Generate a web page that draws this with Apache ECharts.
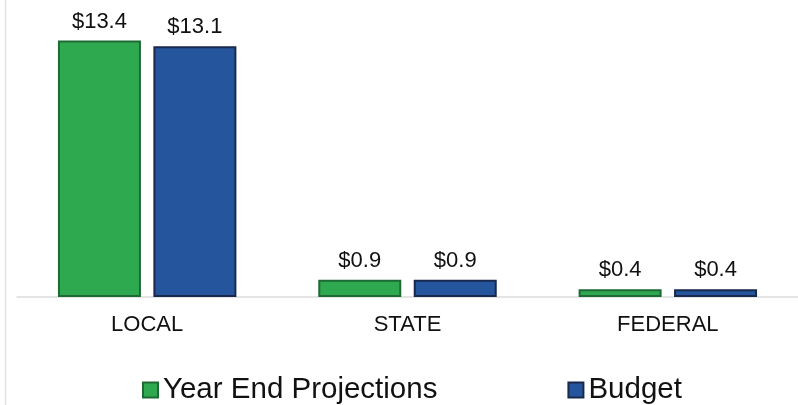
<!DOCTYPE html>
<html>
<head>
<meta charset="utf-8">
<script src="https://cdn.jsdelivr.net/npm/echarts@6/dist/echarts.min.js"></script>
<style>
html,body{margin:0;padding:0;background:#fff;}
#chart{width:798px;height:405px;}
</style>
</head>
<body>
<div id="chart"></div>
<script>
const categories = ['LOCAL', 'STATE', 'FEDERAL'];
const yearEndProjections = [13.4, 0.9, 0.4];
const budget = [13.1, 0.9, 0.4];
const seriesNames = ['Year End Projections', 'Budget'];

const chart = echarts.init(document.getElementById('chart'));
const font = 'Liberation Sans, Arial, sans-serif';
const labelCfg = {
  show: true,
  position: 'top',
  distance: 8,
  formatter: p => '$' + p.value.toFixed(1),
  color: '#111',
  fontFamily: font,
  fontSize: 22
};
chart.setOption({
  animation: false,
  backgroundColor: '#fff',
  graphic: [{
    type: 'line',
    shape: {x1: 5.5, y1: 0, x2: 5.5, y2: 405},
    style: {stroke: '#e2e2e2', lineWidth: 1.5}
  }],
  grid: {left: 17, top: 29, width: 784, bottom: 108, containLabel: false},
  xAxis: {
    type: 'category',
    data: categories,
    axisLine: {show: true, lineStyle: {color: '#dcdcdc', width: 1.5}},
    axisTick: {show: false},
    axisLabel: {color: '#111', fontFamily: font, fontSize: 22, margin: 17}
  },
  yAxis: {
    type: 'value',
    min: 0,
    max: 14,
    show: false,
    splitLine: {show: false}
  },
  legend: {
    data: seriesNames,
    top: 370,
    left: 137,
    itemWidth: 15,
    itemHeight: 15,
    itemGap: 130,
    icon: 'rect',
    textStyle: {color: '#111', fontFamily: font, fontSize: 29.5}
  },
  series: [
    {
      name: seriesNames[0],
      type: 'bar',
      data: yearEndProjections,
      barWidth: 83,
      barGap: '15%',
      itemStyle: {color: '#2fa94f', borderColor: '#1d6a35', borderWidth: 2},
      label: labelCfg
    },
    {
      name: seriesNames[1],
      type: 'bar',
      data: budget,
      barWidth: 83,
      barGap: '15%',
      itemStyle: {color: '#25559c', borderColor: '#18294d', borderWidth: 2},
      label: labelCfg
    }
  ]
});
</script>
</body>
</html>
